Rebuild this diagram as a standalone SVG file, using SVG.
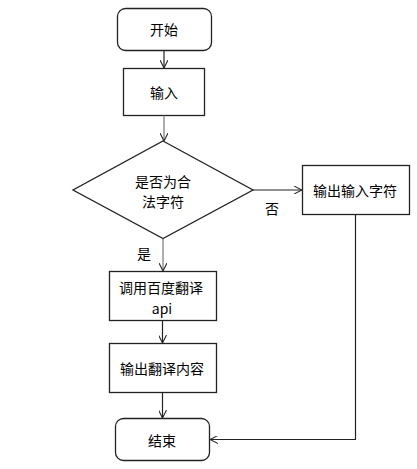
<svg xmlns="http://www.w3.org/2000/svg" width="417" height="469" viewBox="0 0 417 469">
<style>
.box{fill:#fff;stroke:#222;stroke-width:1.3}
.t{font-family:"Noto Sans CJK SC","Liberation Sans",sans-serif;font-size:14px;fill:#000;text-anchor:middle;dominant-baseline:central}
.c{fill:none;stroke:#222;stroke-width:1.2}
.g{stroke:#777}
</style>
<defs>
<marker id="a" viewBox="0 0 10 10" refX="10" refY="5" markerWidth="8" markerHeight="8" markerUnits="userSpaceOnUse" orient="auto">
<path d="M0,0 L10,5 L0,10" fill="none" stroke="#222" stroke-width="1.3"/>
</marker>
</defs>
<rect width="417" height="469" fill="#fff"/>
<g id="start"><rect class="box" x="117.5" y="8.5" width="94" height="42" rx="8"/><text class="t" x="164" y="29">开始</text></g>
<g id="input"><rect class="box" x="123.5" y="68.5" width="81" height="47"/><text class="t" x="164" y="92">输入</text></g>
<g id="check"><polygon class="box" points="163,141 253,190 163,238.5 73,190"/><text class="t" x="163" y="181">是否为合</text><text class="t" x="163" y="201">法字符</text></g>
<g id="printInput"><rect class="box" x="302.5" y="165.5" width="107" height="49"/><text class="t" x="355" y="190">输出输入字符</text></g>
<g id="callApi"><rect class="box" x="109.5" y="271.5" width="107" height="49"/><text class="t" x="161" y="287">调用百度翻译</text><text class="t" x="162" y="308">api</text></g>
<g id="printResult"><rect class="box" x="109.5" y="343.5" width="107" height="49"/><text class="t" x="162" y="368">输出翻译内容</text></g>
<g id="end"><rect class="box" x="115.5" y="418.5" width="94" height="42" rx="8"/><text class="t" x="162" y="440">结束</text></g>
<g id="connectors">
<line class="c" x1="164" y1="50.5" x2="164" y2="68" marker-end="url(#a)"/>
<line class="c g" x1="164" y1="115.5" x2="164" y2="141" marker-end="url(#a)"/>
<line class="c" x1="253" y1="190" x2="302" y2="190" marker-end="url(#a)"/>
<text class="t" x="272" y="208">否</text>
<line class="c g" x1="163" y1="238.5" x2="163" y2="271" marker-end="url(#a)"/>
<text class="t" x="144" y="253">是</text>
<line class="c" x1="162.5" y1="320.5" x2="162.5" y2="343" marker-end="url(#a)"/>
<line class="c" x1="162.5" y1="392.5" x2="162.5" y2="418" marker-end="url(#a)"/>
<polyline class="c" points="355.5,214.5 355.5,439.5 210,439.5" marker-end="url(#a)"/>
</g>
</svg>
